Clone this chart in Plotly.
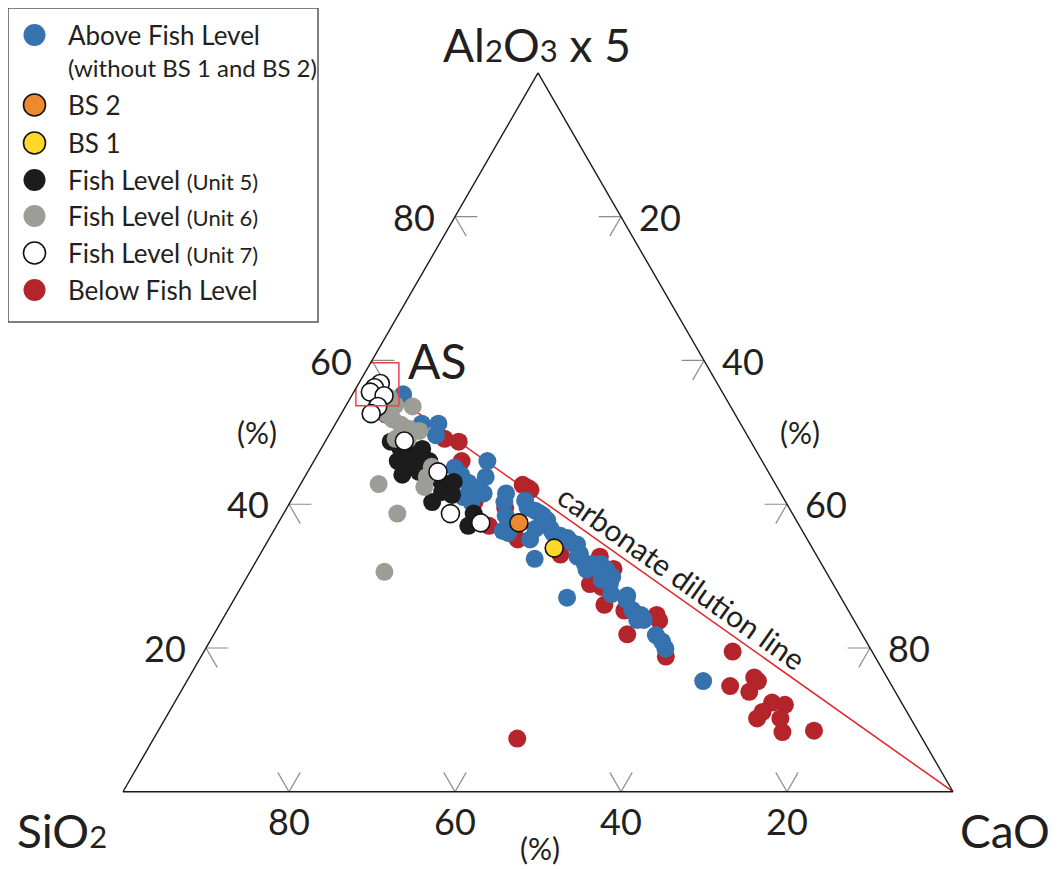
import math
import plotly.graph_objects as go

# ---------------- data: composition in % (Al2O3 x 5, SiO2, CaO) ----------------
ABOVE_AL = [55.3, 51.2, 51.2, 49.6, 45.1, 44.1, 43.0, 42.3, 41.0, 40.3, 41.5, 46.0, 43.8, 41.5, 40.3, 38.4,
            36.3, 36.0, 40.5, 39.5, 38.7, 37.8, 36.6, 36.6, 35.1, 35.6, 34.6, 32.4, 39.1, 38.4, 36.0, 35.3,
            34.4, 32.7, 31.7, 30.9, 31.7, 30.9, 29.5, 28.9, 29.9, 27.0, 27.3, 33.1, 31.7, 30.9, 27.5, 26.7,
            25.3, 24.6, 23.9, 23.9, 21.8, 20.9, 19.9, 15.4]
ABOVE_SI = [38.6, 38.4, 36.4, 37.5, 37.5, 37.2, 36.9, 36.3, 38.5, 37.9, 35.8, 33.1, 34.4, 33.1, 33.9, 34.7,
            36.1, 35.6, 31.3, 31.5, 30.4, 30.0, 30.2, 32.0, 33.4, 29.5, 28.6, 34.2, 30.8, 30.2, 30.2, 28.8,
            28.1, 28.9, 28.5, 28.7, 26.6, 27.1, 27.6, 26.9, 26.1, 33.0, 25.6, 28.4, 27.7, 26.3, 27.4, 26.0,
            26.0, 25.3, 25.3, 26.1, 24.9, 24.6, 24.7, 22.4]
ABOVE_CA = [6.1, 10.4, 12.4, 12.9, 17.4, 18.7, 20.1, 21.4, 20.5, 21.8, 22.7, 20.9, 21.8, 25.4, 25.8, 26.9,
            27.6, 28.4, 28.2, 29.0, 30.9, 32.2, 33.2, 31.4, 31.5, 34.9, 36.8, 33.4, 30.1, 31.4, 33.8, 35.9,
            37.5, 38.4, 39.8, 40.4, 41.7, 42.0, 42.9, 44.2, 44.0, 40.0, 47.1, 38.5, 40.6, 42.8, 45.1, 47.3,
            48.7, 50.1, 50.8, 50.0, 53.3, 54.5, 55.4, 62.2]

BELOW_AL = [52.5, 49.1, 48.7, 46.0, 40.3, 37.0, 39.5, 42.7, 42.0, 35.1, 42.3, 33.0, 32.7, 31.0, 29.9, 28.9,
            28.5, 26.0, 25.2, 24.6, 23.8, 21.9, 18.8, 19.5, 14.7, 15.9, 15.4, 13.9, 12.4, 12.1, 11.1, 10.2,
            10.2, 8.3, 8.5, 7.4]
BELOW_SI = [42.1, 36.7, 35.2, 36.2, 37.5, 37.4, 34.2, 30.5, 29.9, 34.9, 30.1, 30.8, 26.2, 25.4, 27.6, 29.3,
            28.1, 29.0, 27.0, 23.4, 23.5, 28.3, 25.2, 16.8, 19.5, 16.0, 15.8, 17.6, 15.6, 14.2, 17.4, 18.5,
            15.7, 16.4, 12.5, 48.8]
BELOW_CA = [5.4, 14.2, 16.1, 17.8, 22.2, 25.6, 26.3, 26.8, 28.1, 30.0, 27.6, 36.2, 41.1, 43.6, 42.5, 41.8,
            43.4, 45.0, 47.8, 52.0, 52.7, 49.8, 56.0, 63.7, 65.8, 68.1, 68.8, 68.5, 72.0, 73.7, 71.5, 71.3,
            74.1, 75.3, 79.0, 43.8]

UNIT5_AL = [48.7, 47.7, 47.2, 46.0, 46.2, 45.5, 44.1, 44.5, 46.0, 43.1, 42.3, 41.7, 40.3, 41.3, 43.1, 38.7, 37.0, 37.8, 47.7]
UNIT5_SI = [43.4, 42.7, 41.8, 43.9, 41.3, 42.8, 44.3, 42.1, 40.1, 40.1, 39.6, 40.7, 42.6, 39.7, 38.6, 38.4, 39.9, 38.4, 40.1]
UNIT5_CA = [7.9, 9.6, 11.0, 10.1, 12.5, 11.7, 11.6, 13.4, 13.9, 16.8, 18.1, 17.6, 17.1, 19.0, 18.3, 22.9, 23.1, 23.8, 12.2]

UNIT6_AL = [54.8, 53.8, 53.6, 52.6, 51.8, 51.1, 50.5, 50.2, 49.1, 49.1, 45.2, 43.8, 42.4, 42.8, 38.7, 30.6]
UNIT6_SI = [40.5, 40.3, 38.3, 42.0, 41.6, 41.0, 40.3, 39.2, 42.6, 41.1, 40.2, 41.5, 42.5, 47.8, 47.6, 53.2]
UNIT6_CA = [4.7, 5.9, 8.1, 5.4, 6.6, 7.9, 9.2, 10.6, 8.3, 9.8, 14.6, 14.7, 15.1, 9.4, 13.7, 16.2]

UNIT7_AL = [56.8, 56.2, 55.6, 55.1, 53.6, 52.6, 48.8, 44.5, 38.7, 37.4]
UNIT7_SI = [40.6, 41.6, 42.4, 41.0, 42.5, 43.8, 41.7, 39.8, 41.2, 38.2]
UNIT7_CA = [2.6, 2.2, 2.0, 3.9, 3.9, 3.6, 9.5, 15.7, 20.1, 24.4]

BS2_AL, BS2_SI, BS2_CA = [37.4], [33.6], [29.0]
BS1_AL, BS1_SI, BS1_CA = [33.9], [31.1], [35.0]

AS_AL, AS_SI, AS_CA = [56.7], [41.0], [2.3]          # average shale
CAO_AL, CAO_SI, CAO_CA = [0.0], [0.0], [100.0]       # pure CaO corner

TICKS = [20, 40, 60, 80]

LEGEND_LABELS = [
    "Above Fish Level",
    "BS 2",
    "BS 1",
    "Fish Level <span style='font-size:22px'>(Unit 5)</span>",
    "Fish Level <span style='font-size:22px'>(Unit 6)</span>",
    "Fish Level <span style='font-size:22px'>(Unit 7)</span>",
    "Below Fish Level",
]
LEGEND_SUB = "(without BS 1 and BS 2)"

# ---------------- styles / layout ----------------
OFF = 8                      # page body margin
W, H = 1058 - OFF, 869 - OFF
FONT = "Lato"
TXT = "#231f20"
C_BLUE, C_ORANGE, C_YELLOW = "#3572ae", "#ee8a2e", "#fcd82a"
C_BLACK, C_GRAY, C_WHITE, C_RED = "#1c1c1c", "#9d9d98", "#ffffff", "#b3242b"
OUTLINED = {C_ORANGE, C_YELLOW, C_WHITE}
MS = 18

# triangle placement (page pixels)
LEFT, RIGHT, BASE = 123, 953, 792
SIDE = RIGHT - LEFT
HT = SIDE * math.sqrt(3) / 2


def px(x):
    return (x - OFF) / W


def py(y):
    return 1 - (y - OFF) / H


fig = go.Figure()

# carbonate dilution line (AS -> CaO)
fig.add_trace(go.Scatterternary(
    a=AS_AL + CAO_AL, b=AS_SI + CAO_SI, c=AS_CA + CAO_CA, mode="lines",
    line=dict(color="#e3242b", width=1.5), hoverinfo="skip", showlegend=False))

# tick marks (V-shaped stubs of grid lines)
S = 2.7
ta, tb, tc = [], [], []
for v in TICKS:
    for da, db, dc in [(0, -S, S), (-S, 0, S)]:          # left edge
        ta += [v, v + da, None]; tb += [100 - v, 100 - v + db, None]; tc += [0, dc, None]
    for da, db, dc in [(S, 0, -S), (S, -S, 0)]:          # bottom edge
        ta += [0, da, None]; tb += [v, v + db, None]; tc += [100 - v, 100 - v + dc, None]
    for da, db, dc in [(-S, S, 0), (0, S, -S)]:          # right edge
        ta += [100 - v, 100 - v + da, None]; tb += [0, db, None]; tc += [v, v + dc, None]
fig.add_trace(go.Scatterternary(
    a=ta, b=tb, c=tc, mode="lines", connectgaps=False,
    line=dict(color="#8c8c8c", width=1.2), hoverinfo="skip", showlegend=False))

series = [
    ("Below Fish Level", BELOW_AL, BELOW_SI, BELOW_CA, C_RED),
    ("Above Fish Level", ABOVE_AL, ABOVE_SI, ABOVE_CA, C_BLUE),
    ("Fish Level (Unit 5)", UNIT5_AL, UNIT5_SI, UNIT5_CA, C_BLACK),
    ("Fish Level (Unit 6)", UNIT6_AL, UNIT6_SI, UNIT6_CA, C_GRAY),
    ("Fish Level (Unit 7)", UNIT7_AL, UNIT7_SI, UNIT7_CA, C_WHITE),
    ("BS 2", BS2_AL, BS2_SI, BS2_CA, C_ORANGE),
    ("BS 1", BS1_AL, BS1_SI, BS1_CA, C_YELLOW),
]
for name, a, b, c, col in series:
    fig.add_trace(go.Scatterternary(
        a=a, b=b, c=c, mode="markers", name=name, showlegend=False,
        marker=dict(size=MS, color=col,
                    line=dict(color="#111111", width=1.6 if col in OUTLINED else 0))))

# AS box
fig.add_trace(go.Scatterternary(
    a=AS_AL, b=AS_SI, c=AS_CA, mode="markers", showlegend=False, hoverinfo="skip",
    marker=dict(symbol="square-open", size=43, color="#e8434a",
                line=dict(color="#e8434a", width=1.5))))

axis = dict(
    title=dict(text=""), tickvals=TICKS, showticklabels=False, ticks="",
    showgrid=False, showline=True, linecolor="#1a1a1a", linewidth=1.4, min=0)

fig.update_layout(
    width=W, height=H,
    margin=dict(l=0, r=0, t=0, b=0),
    paper_bgcolor="white",
    font=dict(family=FONT, color=TXT),
    showlegend=False,
    ternary=dict(
        sum=100, bgcolor="white",
        domain=dict(x=[px(LEFT), px(RIGHT)], y=[py(BASE), py(BASE - HT - 0.5)]),
        aaxis=axis, baxis=axis, caxis=axis),
)

ann = []


def text(x, y, s, size, xanchor="center", **kw):
    ann.append(dict(x=px(x), y=py(y), xref="paper", yref="paper", text=s, showarrow=False,
                    xanchor=xanchor, yanchor="middle",
                    font=dict(family=FONT, size=size, color=TXT), **kw))


# tick labels, placed beside the triangle edges at each tick value
for v in TICKS:
    f = v / 100
    text(LEFT + SIDE * f / 2 - 18, BASE - HT * f, str(v), 36, xanchor="right")          # Al2O3 x 5
    text(RIGHT - SIDE * (1 - f) / 2 + 16, BASE - HT * (1 - f), str(v), 36, xanchor="left")  # CaO
    text(RIGHT - SIDE * f, BASE + 29, str(v), 36)                                          # SiO2

SMALL = "<span style='font-size:31px'>%s</span>"
text(537, 45, "Al" + SMALL % "2" + "O" + SMALL % "3" + " x 5", 46)
text(62, 830, "SiO" + SMALL % "2", 46)
text(1005, 830, "CaO", 46)
text(437, 360, "AS", 48)
text(257, 432, "(%)", 30)
text(800, 432, "(%)", 30)
text(540, 848, "(%)", 30)
text(682, 577, "carbonate dilution line", 30, textangle=35.3)

# custom legend
shapes = [dict(type="rect", xref="paper", yref="paper", x0=px(8), x1=px(318), y0=py(322), y1=py(8),
               line=dict(color="#555555", width=1.5), fillcolor="white", layer="below")]
legend_cols = [C_BLUE, C_ORANGE, C_YELLOW, C_BLACK, C_GRAY, C_WHITE, C_RED]
legend_y = [35, 105, 143, 180, 216, 253, 290]
R = 11
for lab, col, yy in zip(LEGEND_LABELS, legend_cols, legend_y):
    shapes.append(dict(type="circle", xref="paper", yref="paper",
                       x0=px(34.5 - R), x1=px(34.5 + R), y0=py(yy + R), y1=py(yy - R),
                       fillcolor=col,
                       line=dict(color="#111111", width=1.6 if col in OUTLINED else 0)))
    text(66, yy, lab, 26, xanchor="left")
text(66, 68, LEGEND_SUB, 24, xanchor="left")

fig.update_layout(annotations=ann, shapes=shapes)
fig.write_html("out.html")
